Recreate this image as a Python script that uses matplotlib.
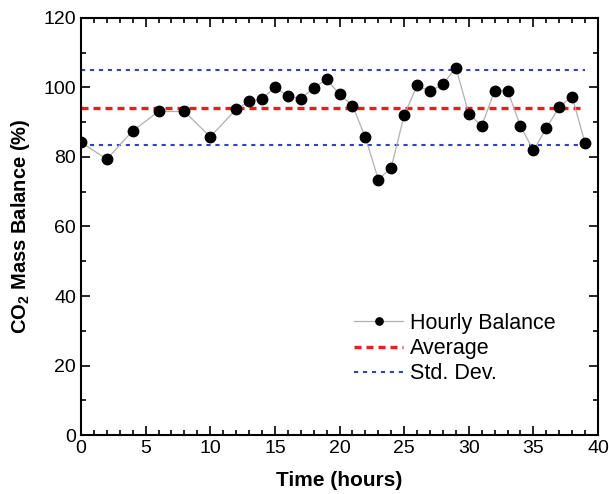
import numpy as np
import matplotlib
matplotlib.use("Agg")
import matplotlib.pyplot as plt
from matplotlib.ticker import MultipleLocator

plt.rcParams['font.family'] = ['Liberation Sans', 'DejaVu Sans']
plt.rcParams['mathtext.fontset'] = 'custom'
plt.rcParams['mathtext.rm'] = 'Liberation Sans'
plt.rcParams['mathtext.bf'] = 'Liberation Sans:bold'

# hourly CO2 mass balance
hours = [0, 2, 4, 6, 8, 10, 12, 13, 14, 15, 16, 17, 18, 19, 20,
         21, 22, 23, 24, 25, 26, 27, 28, 29, 30, 31, 32, 33, 34, 35,
         36, 37, 38, 39]
balance = [84.2, 79.4, 87.5, 93.1, 93.1, 85.8, 93.7, 96.0, 96.6, 100.1, 97.5, 96.8, 99.8, 102.4, 98.0,
           94.8, 85.7, 73.5, 76.9, 92.0, 100.6, 98.9, 100.9, 105.7, 92.5, 88.9, 99.1, 99.1, 88.9, 81.9,
           88.3, 94.4, 97.4, 83.9]

avg_value = 94.2
std_upper = 104.9
std_lower = 83.5
line_x = [0, 39]

fig = plt.figure(figsize=(6.09, 4.94), dpi=100)
ax = fig.add_axes([0.133, 0.1194, 0.849, 0.8442])

ax.plot(hours, balance, '-', color='#b0b0b0', lw=0.9, marker='o',
        markersize=7.5, markerfacecolor='black', markeredgecolor='black',
        label='Hourly Balance', zorder=3)
ax.plot(line_x, [avg_value, avg_value], '--', color='#ee1c1c', lw=2.4,
        dashes=(2.1, 1.5), label='Average', zorder=2)
ax.plot(line_x, [std_upper, std_upper], '--', color='#3344bb', lw=1.5,
        dashes=(2.0, 2.3), label='Std. Dev.', zorder=2)
ax.plot(line_x, [std_lower, std_lower], '--', color='#3344bb', lw=1.5,
        dashes=(2.0, 2.3), zorder=2)

ax.set_xlim(0, 40)
ax.set_ylim(0, 120)
ax.xaxis.set_major_locator(MultipleLocator(5))
ax.xaxis.set_minor_locator(MultipleLocator(1))
ax.yaxis.set_major_locator(MultipleLocator(20))
ax.yaxis.set_minor_locator(MultipleLocator(10))
ax.tick_params(which='both', direction='in', top=True, right=True, labelsize=14, width=1.2)
ax.tick_params(which='major', length=6.5)
ax.tick_params(which='minor', length=3.5)
for sp in ax.spines.values():
    sp.set_linewidth(1.5)

ax.set_xlabel('Time (hours)', fontsize=15, fontweight='bold', labelpad=10)
ax.set_ylabel(r'CO$_\mathbf{2}$ Mass Balance (%)', fontsize=14.5, fontweight='bold', labelpad=8)

ax.legend(loc='lower right', bbox_to_anchor=(0.955, 0.075), frameon=False,
          fontsize=15.5, handlelength=2.3, handletextpad=0.3, labelspacing=0.2,
          markerscale=0.7)

fig.savefig('out.png', dpi=100)
